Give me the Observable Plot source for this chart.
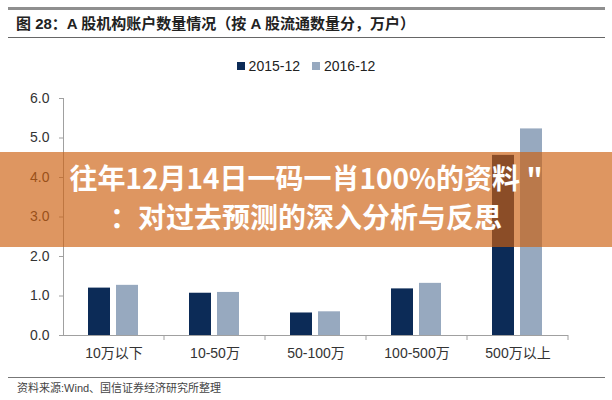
<!DOCTYPE html>
<html>
<head>
<meta charset="utf-8">
<script src="https://cdn.jsdelivr.net/npm/d3@7"></script>
<script src="https://cdn.jsdelivr.net/npm/@observablehq/plot@0.6"></script>
<style>
  html, body { margin: 0; padding: 0; background: #fff; }
  #root { position: relative; width: 612px; height: 400px; overflow: hidden; font-family: "Liberation Sans", Arial, "Noto Sans CJK SC", sans-serif; color: #333; }
  .rule { position: absolute; left: 8px; width: 597px; height: 0; }
  #title { position: absolute; left: 16px; top: 12px; font-size: 15px; font-weight: bold; color: #222; white-space: nowrap; }
  #legend { position: absolute; top: 57px; left: 0; width: 612px; text-align: center; font-size: 14px; color: #222; }
  #legend span.item { display: inline-flex; align-items: center; margin: 0 6px; }
  #legend span.sw { display: inline-block; width: 8px; height: 8px; margin-right: 4px; }
  #chart { position: absolute; left: 0; top: 85px; }
  #source { position: absolute; left: 17px; top: 379px; font-size: 11px; color: #444; white-space: nowrap; }
  #banner { position: absolute; left: 0; top: 152px; width: 612px; height: 95px; background: rgba(205, 95, 15, 0.66); color: #fff; font-family: "Noto Sans CJK SC", sans-serif; font-weight: bold; font-size: 28px; line-height: 39px; text-align: center; padding-top: 6px; box-sizing: border-box; }
</style>
</head>
<body>
<div id="root">
  <div class="rule" style="top:7px;border-top:3px solid #8f8f8f;"></div>
  <div id="title"></div>
  <div class="rule" style="top:37px;border-top:1.5px solid #666;"></div>
  <div id="legend"></div>
  <div id="chart"></div>
  <div class="rule" style="top:377px;border-top:1.5px solid #777;"></div>
  <div id="source"></div>
  <div id="banner"></div>
</div>
<script>
const titleText = "图 28：A 股机构账户数量情况（按 A 股流通数量分，万户）";
const sourceText = "资料来源:Wind、国信证券经济研究所整理";
const bannerLines = ["往年12月14日一码一肖100%的资料 \"", "：对过去预测的深入分析与反思"];

const categories = ["10万以下", "10-50万", "50-100万", "100-500万", "500万以上"];
const series = ["2015-12", "2016-12"];
const values2015 = [1.20, 1.07, 0.57, 1.18, 4.56];
const values2016 = [1.27, 1.09, 0.60, 1.32, 5.23];
const yTicks = [0, 1, 2, 3, 4, 5, 6];
const colors = ["#0c2b57", "#97a9bf"];

document.getElementById("title").textContent = titleText;
document.getElementById("source").textContent = sourceText;
document.getElementById("banner").innerHTML = bannerLines.map(s => s.replace(/&/g,"&amp;").replace(/</g,"&lt;")).join("<br>");

const legend = document.getElementById("legend");
series.forEach((s, i) => {
  const item = document.createElement("span");
  item.className = "item";
  const sw = document.createElement("span");
  sw.className = "sw";
  sw.style.background = colors[i];
  item.appendChild(sw);
  item.appendChild(document.createTextNode(s));
  legend.appendChild(item);
});

const data = [];
categories.forEach((c, i) => {
  data.push({category: c, series: series[0], value: values2015[i]});
  data.push({category: c, series: series[1], value: values2016[i]});
});

const W = 612, H = 280, mT = 13, mB = 30, mL = 62, mR = 44;
const axisColor = "#a0a0a0";

const plot = Plot.plot({
  width: W, height: H,
  marginTop: mT, marginBottom: mB, marginLeft: mL, marginRight: mR,
  style: {fontFamily: "'Liberation Sans', Arial, 'Noto Sans CJK SC', sans-serif", fontSize: "14px", color: "#333", background: "transparent"},
  fx: {domain: categories, paddingInner: 0, paddingOuter: 0, label: null},
  x: {domain: series, paddingInner: 0.21, paddingOuter: 0.88, axis: null},
  y: {domain: [0, 6], label: null},
  color: {domain: series, range: colors},
  marks: [
    Plot.frame({anchor: "left", stroke: axisColor, facetAnchor: "left"}),
    Plot.axisY({ticks: yTicks, tickFormat: d3.format(".1f"), tickSize: 4, tickPadding: 10, stroke: axisColor, label: null, fontSize: 14}),
    Plot.axisFx({anchor: "bottom", tickSize: 0, tickPadding: 13, label: null, fontSize: 14}),
    Plot.barY(data, {fx: "category", x: "series", y: "value", fill: "series"}),
    Plot.ruleY([0], {stroke: axisColor})
  ]
});

// category-boundary tick marks below the x axis, placed with Plot's own fx and y scales
const fx = plot.scale("fx");
const ys = plot.scale("y");
const y0 = ys.apply(0);
const bounds = categories.map(c => fx.apply(c)).concat([fx.apply(categories[categories.length - 1]) + fx.bandwidth]);
d3.select(plot).append("g")
  .attr("stroke", axisColor)
  .selectAll("line")
  .data(bounds.slice(1))
  .join("line")
  .attr("x1", d => d).attr("x2", d => d)
  .attr("y1", y0).attr("y2", y0 + 5);

document.getElementById("chart").appendChild(plot);
</script>
</body>
</html>
